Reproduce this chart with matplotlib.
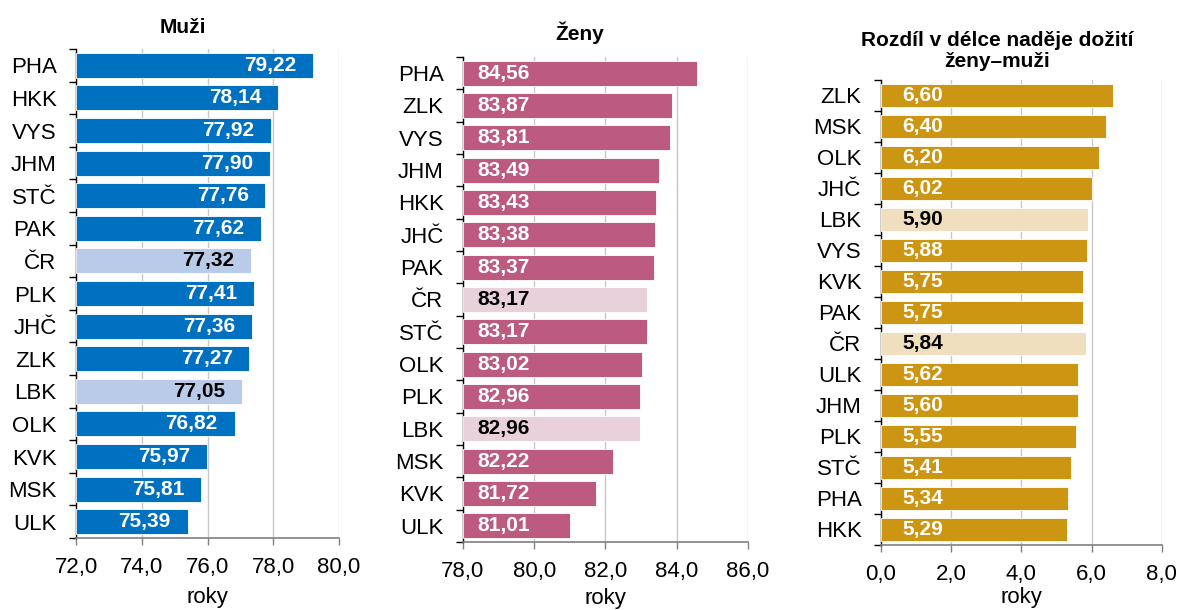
import numpy as np
import matplotlib as mpl
mpl.use('Agg')
import matplotlib.pyplot as plt
from matplotlib.ticker import FixedLocator

plt.rcParams['font.family'] = ['Liberation Sans', 'DejaVu Sans']

### data ###
muzi_kraje = ['PHA', 'HKK', 'VYS', 'JHM', 'STČ', 'PAK', 'ČR', 'PLK', 'JHČ', 'ZLK', 'LBK', 'OLK', 'KVK', 'MSK', 'ULK']
muzi_hodnoty = [79.22, 78.14, 77.92, 77.90, 77.76, 77.62, 77.32, 77.41, 77.36, 77.27, 77.05, 76.82, 75.97, 75.81, 75.39]

zeny_kraje = ['PHA', 'ZLK', 'VYS', 'JHM', 'HKK', 'JHČ', 'PAK', 'ČR', 'STČ', 'OLK', 'PLK', 'LBK', 'MSK', 'KVK', 'ULK']
zeny_hodnoty = [84.56, 83.87, 83.81, 83.49, 83.43, 83.38, 83.37, 83.17, 83.17, 83.02, 82.96, 82.96, 82.22, 81.72, 81.01]

rozdil_kraje = ['ZLK', 'MSK', 'OLK', 'JHČ', 'LBK', 'VYS', 'KVK', 'PAK', 'ČR', 'ULK', 'JHM', 'PLK', 'STČ', 'PHA', 'HKK']
rozdil_hodnoty = [6.60, 6.40, 6.20, 6.02, 5.90, 5.88, 5.75, 5.75, 5.84, 5.62, 5.60, 5.55, 5.41, 5.34, 5.29]

zvyraznit = ['ČR', 'LBK']

# panel setup: (categories, values, title, xmin, xmax, color, light color, axes rect, bar height, label mode, title pos, xlabel pad)
panels = [
    (muzi_kraje, muzi_hodnoty, 'Muži', 72, 80, '#0070C0', '#BACBEA',
     [0.0645, 0.1180, 0.2231, 0.8016], 0.77, 'end', (0.407, 1.045), 6),
    (zeny_kraje, zeny_hodnoty, 'Ženy', 78, 86, '#BC5B7F', '#E8D1DB',
     [0.3927, 0.1115, 0.2417, 0.7951], 0.77, 'start', (0.41, 1.05), 4),
    (rozdil_kraje, rozdil_hodnoty, 'Rozdíl v délce naděje dožití\nženy–muži', 0, 8, '#CC9613', '#F0DFBE',
     [0.7472, 0.1066, 0.2383, 0.7623], 0.75, 'start', (0.413, 1.062), 1),
]

fig = plt.figure(figsize=(11.79, 6.10), dpi=100)

for kraje, hodnoty, title, xmin, xmax, col, lightcol, rect, bh, mode, tpos, lpad in panels:
    ax = fig.add_axes(rect)
    n = len(kraje)
    y = np.arange(n)
    colors = [lightcol if k in zvyraznit else col for k in kraje]
    ax.barh(y, np.array(hodnoty) - xmin, left=xmin, height=bh, color=colors,
            edgecolor='white', linewidth=0.6, zorder=3)
    ax.set_xlim(xmin, xmax)
    ax.set_ylim(n - 0.5, -0.5)

    # value labels
    for i, (k, v) in enumerate(zip(kraje, hodnoty)):
        txt = ('%.2f' % v).replace('.', ',')
        tc = 'black' if k in zvyraznit else 'white'
        if mode == 'end':
            ax.annotate(txt, (v, i), xytext=(-12, 0), textcoords='offset points',
                        ha='right', va='center', fontsize=15, fontweight='bold', color=tc, zorder=4)
        else:
            off = 10.5 if xmin > 0 else 15.5
            ax.annotate(txt, (xmin, i), xytext=(off, 0), textcoords='offset points',
                        ha='left', va='center', fontsize=15, fontweight='bold', color=tc, zorder=4)

    # axes styling
    ticks = np.arange(xmin, xmax + 0.1, 2)
    ax.set_xticks(ticks)
    ax.set_xticklabels([('%.1f' % t).replace('.', ',') for t in ticks], fontsize=16)
    ax.grid(axis='x', color='#C8C8C8', linewidth=1, zorder=0)
    ax.set_yticks(y)
    ax.set_yticklabels(kraje, fontsize=16)
    ax.yaxis.set_minor_locator(FixedLocator(np.arange(-0.5, n, 1)))
    ax.tick_params(axis='y', which='major', length=0, pad=14)
    ax.tick_params(axis='y', which='minor', length=5, width=1, color='black', direction='out')
    ax.tick_params(axis='x', length=5, width=1, color='#808080', pad=9)
    for s in ['top', 'right']:
        ax.spines[s].set_visible(False)
    ax.spines['left'].set_color('black')
    ax.spines['left'].set_linewidth(1)
    ax.spines['bottom'].set_color('#808080')
    ax.spines['bottom'].set_linewidth(1.2)
    ax.set_xlabel('roky', fontsize=16, labelpad=lpad)
    ax.text(tpos[0], tpos[1], title, transform=ax.transAxes, ha='center', va='center',
            fontsize=15, fontweight='bold', linespacing=1.15)

plt.savefig('out.png', dpi=100)
